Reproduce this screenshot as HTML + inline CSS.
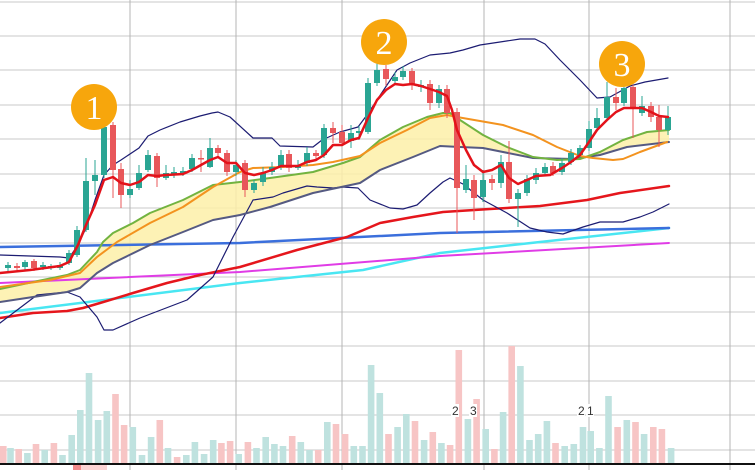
<!DOCTYPE html>
<html><head><meta charset="utf-8"><style>
html,body{margin:0;padding:0;background:#fff;}
svg{display:block;}
text{font-family:"Liberation Serif",serif;}
</style></head><body>
<svg id="c" width="755" height="470" viewBox="0 0 755 470" xmlns="http://www.w3.org/2000/svg"></svg>
<script>
var s=document.getElementById('c'),h='';
function L(p){return p.map(function(a){return a[0]+','+a[1]}).join(' ');}
function pl(p,c,w){h+='<polyline points="'+L(p)+'" fill="none" stroke="'+c+'" stroke-width="'+w+'" stroke-linejoin="round" stroke-linecap="round"/>';}
[2,36,70,105,139,174,208,243,277,312,346,381,415,450].forEach(function(y){h+='<line x1="0" x2="755" y1="'+y+'" y2="'+y+'" stroke="#c8c8c8" stroke-width="1"/>';});
[130,236,342,484,589,730].forEach(function(x){h+='<line x1="'+x+'" x2="'+x+'" y1="0" y2="470" stroke="#b4b4b4" stroke-width="1"/>';});
var V=[[0,446,1],[15,448,0],[32,449,1],[50,453,0],[68,444,1],[86,450,0],[105,443,1],[123,455,0],[142,435,0],[160,410,0],[178,373,0],[197,420,0],[215,411,0],[233,394,1],[251,425,1],[269,427,0],[288,455,0],[307,437,0],[325,420,1],[342,448,0],[361,457,1],[380,455,0],[398,442,0],[417,454,0],[436,440,0],[453,443,1],[471,441,1],[489,454,0],[508,442,1],[526,448,0],[545,437,0],[563,444,0],[581,446,0],[600,436,1],[618,442,0],[636,450,0],[654,450,1],[673,422,0],[691,424,1],[710,434,1],[728,446,0],[746,446,0],[764,365,0],[782,393,0],[800,434,1],[819,427,0],[837,414,0],[855,421,1],[874,440,0],[892,432,1],[910,443,0],[928,445,1],[946,350,1],[965,419,0],[983,399,1],[1002,429,0],[1020,449,1],[1038,412,0],[1056,346,1],[1074,366,0],[1093,440,0],[1111,434,0],[1129,421,0],[1147,443,1],[1166,446,0],[1185,444,0],[1204,427,0],[1220,431,0],[1238,448,0],[1257,396,0],[1276,427,1],[1295,420,0],[1313,422,1],[1331,434,0],[1350,427,1],[1368,429,1],[1387,448,0]];
V.forEach(function(v){var x=v[0]/2.077;h+='<rect x="'+x.toFixed(1)+'" y="'+v[1]+'" width="6.6" height="'+(463-v[1])+'" fill="'+(v[2]?'#f7c5c5':'#bfe2df')+'"/>';});
h+='<line x1="0" x2="755" y1="464" y2="464" stroke="#111" stroke-width="2"/>';
h+='<rect x="73" y="465" width="8" height="5" fill="#f28b8b"/><rect x="81" y="465" width="26" height="5" fill="#fbd4d4"/>';
[[452,"2"],[470,"3"],[578,"2"],[587,"1"]].forEach(function(t){h+='<rect x="'+(t[0]-1)+'" y="404" width="8" height="13" fill="#fff"/><text x="'+t[0]+'" y="415" font-size="12" fill="#333" style="font-family:Liberation Sans,sans-serif">'+t[1]+'</text>';});
var G=[[0,289],[33,282],[67,275],[80,270],[97,252],[103,242],[113,233],[133,223],[150,213],[183,200],[213,185],[240,182],[270,178],[313,172],[343,163],[360,157],[380,140],[403,127],[427,117],[443,113],[450,113],[460,120],[483,135],[507,147],[533,157],[557,160],[580,159],[600,152],[623,140],[647,132],[669,130]];
var D=[[0,302],[33,297],[67,292],[80,288],[97,273],[113,263],[150,245],[183,232],[213,220],[240,215],[270,207],[313,193],[360,183],[380,170],[413,157],[440,146],[460,147],[483,148],[533,158],[573,159],[600,155],[627,147],[669,142]];
h+='<polygon points="'+L(G.concat(D.slice().reverse()))+'" fill="#fdf0a8" fill-opacity="0.85"/>';
pl([[0,313],[240,283],[363,270],[440,253],[540,242],[669,228]],'#49e6f2',2.5);
pl([[0,283],[240,272],[440,256],[669,243]],'#e03ce6',2);
pl([[0,247],[240,243],[440,233],[669,228]],'#3b6fdc',2.5);
pl([[0,318],[33,313],[67,311],[83,308],[100,303],[133,293],[167,283],[200,275],[240,267],[297,250],[347,237],[380,223],[413,217],[443,212],[490,209],[540,206],[587,200],[620,193],[669,186]],'#e5161c',2.5);
pl([[0,255],[60,257],[69,258],[78,245],[86,228],[95,200],[104,175],[113,165],[121,160],[139,148],[148,136],[160,130],[180,122],[200,116],[212,113],[218,112],[230,117],[253,138],[272,138],[280,146],[313,147],[322,140],[340,132],[358,127],[367,115],[377,100],[397,70],[410,63],[430,55],[450,53],[463,50],[480,45],[500,42],[520,39],[535,39],[545,44],[560,60],[580,80],[597,98],[610,97],[630,86],[645,82],[668,78]],'#1c1c72',1.2);
pl([[0,323],[37,295],[67,292],[80,297],[97,317],[104,330],[113,330],[140,318],[153,313],[187,300],[213,277],[233,237],[253,200],[273,197],[283,193],[307,186],[317,187],[333,188],[343,187],[358,188],[370,200],[390,208],[403,209],[417,205],[430,193],[443,182],[450,178],[463,184],[483,200],[507,213],[530,228],[547,232],[563,234],[583,227],[600,222],[623,222],[640,217],[653,212],[669,204]],'#1c1c72',1.2);
pl(D,'#555a82',2);
pl(G,'#72b340',2);
pl([[0,287],[50,280],[80,273],[97,257],[117,242],[150,223],[183,207],[213,187],[240,172],[253,168],[283,167],[313,165],[333,162],[360,156],[380,143],[407,130],[430,118],[447,115],[457,117],[503,125],[533,135],[557,147],[580,156],[593,158],[613,160],[623,159],[640,152],[667,142]],'#f3931f',2);
var C=[[8,268,265,262,272],[17,266,268,263,270],[25,267,262,260,270],[34,261,268,259,271],[43,267,265,262,270],[51,268,266,264,270],[60,268,265,262,270],[69,263,253,250,265],[77,255,230,226,257],[86,230,181,158,232],[95,181,175,160,195],[104,175,127,122,178],[113,125,170,122,198],[121,169,195,163,208],[130,195,189,180,198],[139,188,173,165,190],[148,170,155,150,172],[157,156,178,153,187],[166,178,173,165,180],[174,174,172,167,178],[183,173,171,167,176],[192,169,158,154,172],[201,158,158,150,172],[210,167,148,138,168],[218,148,153,145,158],[227,153,172,150,176],[236,172,165,160,176],[245,163,190,160,197],[254,190,183,180,193],[263,182,173,167,186],[272,172,167,162,175],[281,167,155,150,170],[289,154,168,150,172],[298,168,165,160,170],[307,163,153,147,166],[316,153,156,150,160],[324,155,128,124,158],[333,128,133,122,143],[342,132,143,125,146],[351,141,133,125,148],[359,133,131,126,140],[368,132,83,78,134],[377,83,70,63,86],[386,69,79,65,86],[395,81,77,72,84],[403,77,71,66,80],[412,71,85,68,90],[421,87,85,80,92],[430,84,103,80,110],[439,103,89,85,108],[447,89,113,85,118],[457,112,188,108,233],[466,190,179,165,193],[474,180,198,175,220],[483,197,180,170,202],[492,179,183,175,190],[501,183,162,155,188],[509,162,199,141,203],[518,199,193,189,227],[527,193,179,175,196],[536,180,173,168,184],[545,173,167,163,176],[553,166,173,162,176],[562,172,163,158,175],[571,162,153,149,165],[580,155,148,145,158],[589,148,129,121,151],[597,128,118,108,130],[607,118,97,82,120],[616,97,103,88,110],[624,103,88,82,106],[633,87,108,85,138],[642,113,106,96,116],[651,106,117,102,122],[659,117,130,105,147],[668,130,117,106,135]];
C.forEach(function(c){var up=c[2]<c[1],col=up?'#2aa593':'#e8575a';var t=Math.min(c[1],c[2]),b=Math.max(c[1],c[2]);if(b-t<1.5)b=t+1.5;
h+='<line x1="'+c[0]+'" x2="'+c[0]+'" y1="'+c[3]+'" y2="'+c[4]+'" stroke="'+col+'" stroke-width="1"/>';
h+='<rect x="'+(c[0]-3)+'" y="'+t+'" width="6" height="'+(b-t)+'" fill="'+col+'"/>';});
pl([[0,273],[30,270],[60,266],[69,262],[78,245],[86,225],[95,205],[104,180],[113,177],[121,183],[130,185],[139,182],[148,175],[157,176],[166,175],[183,174],[192,170],[210,160],[218,157],[227,163],[236,163],[245,173],[254,175],[263,173],[272,170],[281,166],[298,166],[307,162],[316,160],[324,155],[333,145],[342,145],[351,140],[359,138],[368,118],[377,100],[386,90],[395,84],[403,85],[412,84],[421,86],[430,89],[439,92],[447,96],[452,110],[457,130],[466,150],[474,165],[483,172],[492,170],[501,165],[509,178],[518,184],[527,180],[536,176],[550,175],[562,168],[571,162],[580,155],[589,142],[597,130],[607,120],[616,112],[624,108],[633,108],[642,108],[651,112],[659,116],[668,117]],'#e3121a',2.5);
[[94,107,"1"],[384,42,"2"],[622,64,"3"]].forEach(function(c){h+='<circle cx="'+c[0]+'" cy="'+c[1]+'" r="23" fill="#f7a60c"/><text x="'+c[0]+'" y="'+(c[1]+12)+'" font-size="34" fill="#fff" text-anchor="middle">'+c[2]+'</text>';});
s.innerHTML=h;
</script>
</body></html>
